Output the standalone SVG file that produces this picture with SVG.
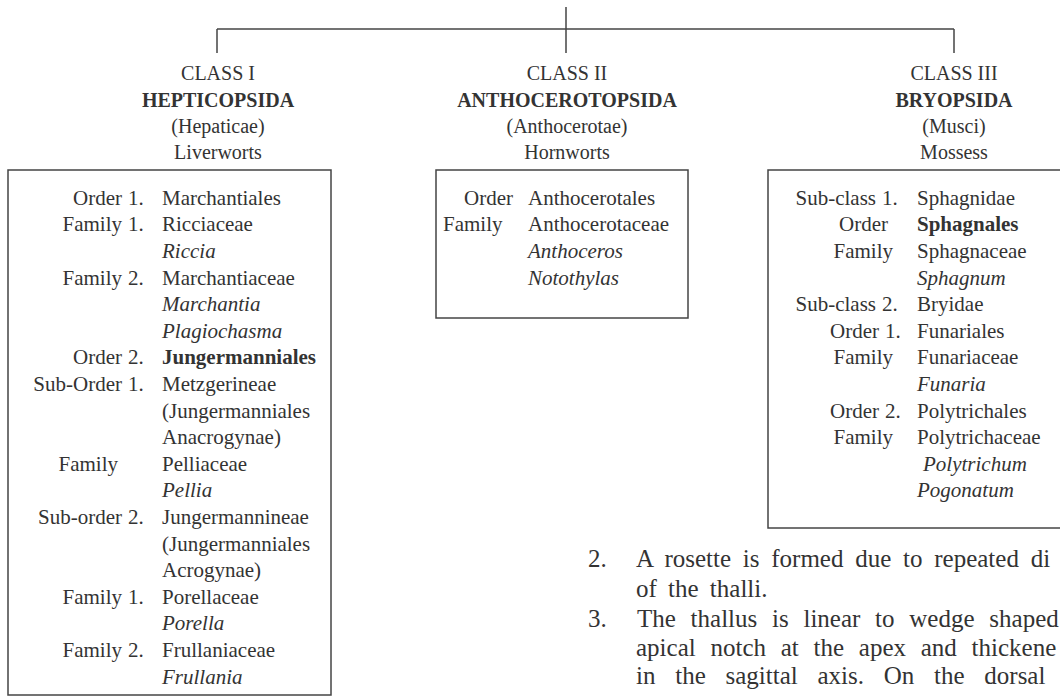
<svg xmlns="http://www.w3.org/2000/svg" width="1060" height="699" viewBox="0 0 1060 699">
<style>
text{font-family:"Liberation Serif","Times New Roman",serif;font-size:21px;fill:#333}
.h{text-anchor:middle;font-size:20px}
.b{font-weight:bold}
.i{font-style:italic}
.r{text-anchor:end}
.box{fill:none;stroke:#444;stroke-width:1.5}
.ln{stroke:#444;stroke-width:1.5;fill:none}
.p{font-size:25px}
</style>
<g id="connectors">
<line class="ln" x1="566" y1="7" x2="566" y2="53"/>
<line class="ln" x1="217" y1="29" x2="954" y2="29"/>
<line class="ln" x1="217" y1="29" x2="217" y2="53"/>
<line class="ln" x1="954" y1="29" x2="954" y2="53"/>
</g>
<g id="class1">
<text class="h" x="218" y="80">CLASS I</text>
<text class="h b" x="218" y="107">HEPTICOPSIDA</text>
<text class="h" x="218" y="133">(Hepaticae)</text>
<text class="h" x="218" y="159">Liverworts</text>
<rect class="box" x="8" y="170" width="323" height="525"/>
<text class="r" x="122" y="205">Order</text><text x="128" y="205">1.</text><text x="162" y="205">Marchantiales</text>
<text class="r" x="122" y="231">Family</text><text x="128" y="231">1.</text><text x="162" y="231">Ricciaceae</text>
<text class="i" x="162" y="258">Riccia</text>
<text class="r" x="122" y="285">Family</text><text x="128" y="285">2.</text><text x="162" y="285">Marchantiaceae</text>
<text class="i" x="162" y="311">Marchantia</text>
<text class="i" x="162" y="338">Plagiochasma</text>
<text class="r" x="122" y="364">Order</text><text x="128" y="364">2.</text><text class="b" x="162" y="364">Jungermanniales</text>
<text class="r" x="122" y="391">Sub-Order</text><text x="128" y="391">1.</text><text x="162" y="391">Metzgerineae</text>
<text x="162" y="418">(Jungermanniales</text>
<text x="162" y="444">Anacrogynae)</text>
<text class="r" x="118" y="471">Family</text><text x="162" y="471">Pelliaceae</text>
<text class="i" x="162" y="497">Pellia</text>
<text class="r" x="122" y="524">Sub-order</text><text x="128" y="524">2.</text><text x="162" y="524">Jungermannineae</text>
<text x="162" y="551">(Jungermanniales</text>
<text x="162" y="577">Acrogynae)</text>
<text class="r" x="122" y="604">Family</text><text x="128" y="604">1.</text><text x="162" y="604">Porellaceae</text>
<text class="i" x="162" y="630">Porella</text>
<text class="r" x="122" y="657">Family</text><text x="128" y="657">2.</text><text x="162" y="657">Frullaniaceae</text>
<text class="i" x="162" y="684">Frullania</text>
</g>
<g id="class2">
<text class="h" x="567" y="80">CLASS II</text>
<text class="h b" x="567" y="107">ANTHOCEROTOPSIDA</text>
<text class="h" x="567" y="133">(Anthocerotae)</text>
<text class="h" x="567" y="159">Hornworts</text>
<rect class="box" x="436" y="170" width="252" height="148"/>
<text class="r" x="513" y="205">Order</text><text x="528" y="205">Anthocerotales</text>
<text x="443" y="231">Family</text><text x="528" y="231">Anthocerotaceae</text>
<text class="i" x="528" y="258">Anthoceros</text>
<text class="i" x="528" y="285">Notothylas</text>
</g>
<g id="class3">
<text class="h" x="954" y="80">CLASS III</text>
<text class="h b" x="954" y="107">BRYOPSIDA</text>
<text class="h" x="954" y="133">(Musci)</text>
<text class="h" x="954" y="159">Mossess</text>
<rect class="box" x="768" y="170" width="320" height="358"/>
<text class="r" x="876" y="205">Sub-class</text><text x="882" y="205">1.</text><text x="917" y="205">Sphagnidae</text>
<text class="r" x="888" y="231">Order</text><text class="b" x="917" y="231">Sphagnales</text>
<text class="r" x="893" y="258">Family</text><text x="917" y="258">Sphagnaceae</text>
<text class="i" x="917" y="285">Sphagnum</text>
<text class="r" x="876" y="311">Sub-class</text><text x="882" y="311">2.</text><text x="917" y="311">Bryidae</text>
<text class="r" x="879" y="338">Order</text><text x="885" y="338">1.</text><text x="917" y="338">Funariales</text>
<text class="r" x="893" y="364">Family</text><text x="917" y="364">Funariaceae</text>
<text class="i" x="917" y="391">Funaria</text>
<text class="r" x="879" y="418">Order</text><text x="885" y="418">2.</text><text x="917" y="418">Polytrichales</text>
<text class="r" x="893" y="444">Family</text><text x="917" y="444">Polytrichaceae</text>
<text class="i" x="923" y="471">Polytrichum</text>
<text class="i" x="917" y="497">Pogonatum</text>
</g>
<g id="paragraph">
<text class="p" x="588" y="567">2.</text>
<text class="p" x="636" y="567" word-spacing="5.5">A rosette is formed due to repeated di</text>
<text class="p" x="636" y="597" word-spacing="5">of the thalli.</text>
<text class="p" x="588" y="627">3.</text>
<text class="p" x="637" y="627" word-spacing="8.5">The thallus is linear to wedge shaped</text>
<text class="p" x="636" y="656" word-spacing="8.5">apical notch at the apex and thickene</text>
<text class="p" x="636" y="684" word-spacing="13.5">in the sagittal axis. On the dorsal</text>
</g>
</svg>
